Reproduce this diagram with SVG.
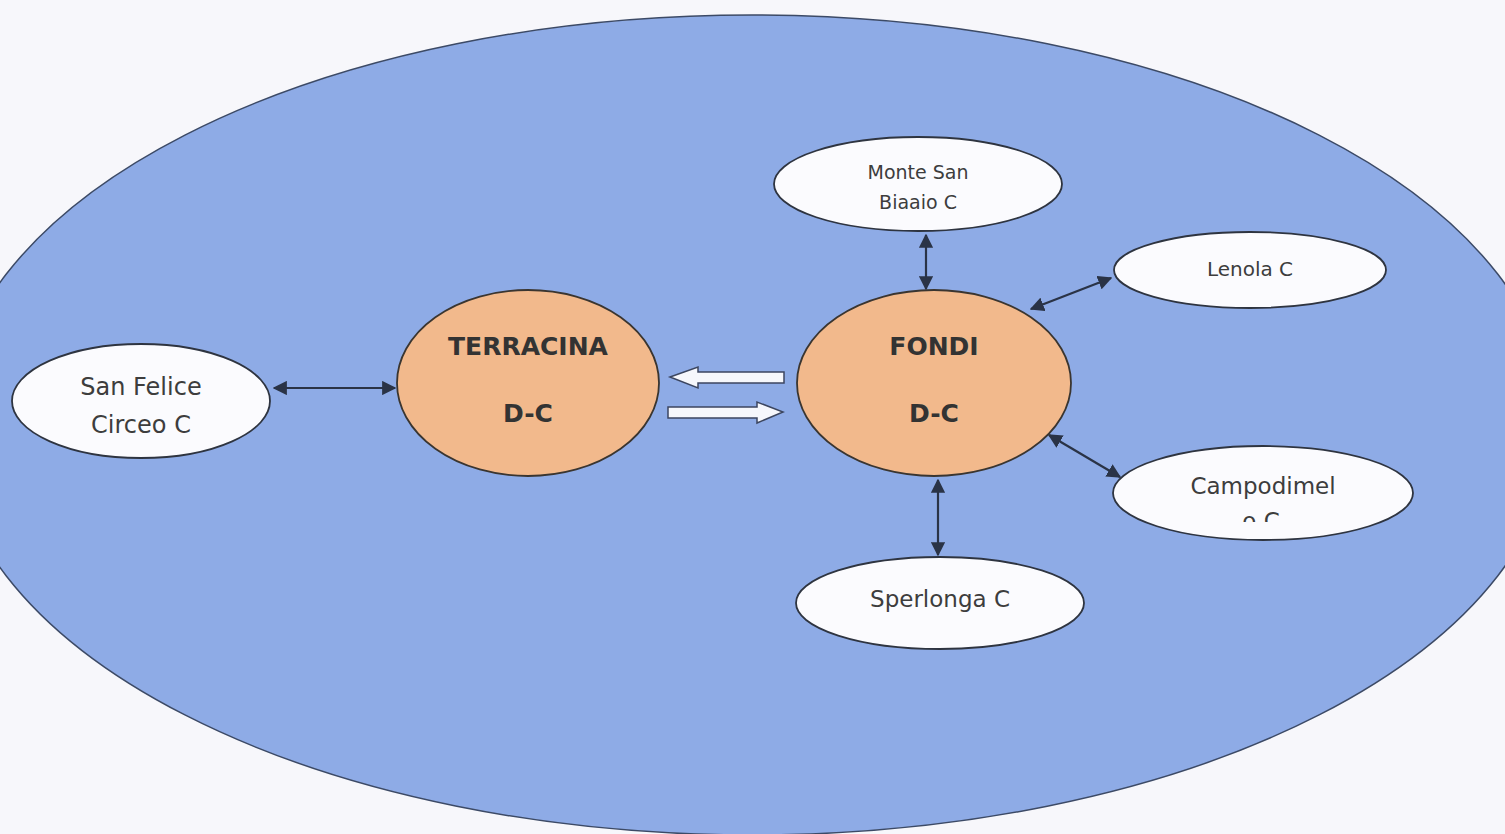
<svg xmlns="http://www.w3.org/2000/svg" width="1505" height="834" viewBox="0 0 1505 834">
<defs>
<style>
.bg{fill:#f7f7fb}
.outer{fill:#8eabe6;stroke:#3c4a66;stroke-width:1.5}
.sat{fill:#fbfbfe;stroke:#2e3440;stroke-width:1.8}
.hub{fill:#f2b98c;stroke:#3a3530;stroke-width:1.8}
.lbl{font-family:"DejaVu Sans",sans-serif;fill:#3d3d3d;text-anchor:middle}
.hubt{font-family:"DejaVu Sans",sans-serif;font-weight:bold;fill:#333;text-anchor:middle;font-size:25px}
.con{stroke:#2a3346;stroke-width:2.2;fill:none;marker-start:url(#ah);marker-end:url(#ah)}
.blk{fill:#f6f7fc;stroke:#3c4660;stroke-width:1.5}
</style>
<marker id="ah" viewBox="0 0 10 10" refX="9" refY="5" markerWidth="6.5" markerHeight="6.5" orient="auto-start-reverse" markerUnits="strokeWidth">
<path d="M0,0 L10,5 L0,10 z" fill="#2a3346"/>
</marker>
<clipPath id="cpClip"><rect x="1100" y="440" width="330" height="82"/></clipPath>
</defs>
<rect class="bg" x="0" y="0" width="1505" height="834"/>
<g id="region">
<ellipse class="outer" cx="752" cy="425" rx="802" ry="410"/>
</g>
<g id="connectors">
<line class="con" x1="274" y1="388" x2="395" y2="388"/>
<line class="con" x1="926" y1="235" x2="926" y2="289"/>
<line class="con" x1="1111" y1="278" x2="1031" y2="309"/>
<line class="con" x1="1120" y1="477" x2="1049" y2="435"/>
<line class="con" x1="938" y1="480" x2="938" y2="555"/>
<path class="blk" d="M670,377 L698,367 L698,372 L784,372 L784,383 L698,383 L698,388 Z"/>
<path class="blk" d="M668,407 L757,407 L757,402 L783,412 L757,423 L757,418 L668,418 Z"/>
</g>
<g id="san-felice">
<ellipse class="sat" cx="141" cy="401" rx="129" ry="57"/>
<text class="lbl" x="141" y="395" font-size="24">San Felice</text>
<text class="lbl" x="141" y="433" font-size="24">Circeo C</text>
</g>
<g id="terracina">
<ellipse class="hub" cx="528" cy="383" rx="131" ry="93"/>
<text class="hubt" x="528" y="355">TERRACINA</text>
<text class="hubt" x="528" y="422">D-C</text>
</g>
<g id="fondi">
<ellipse class="hub" cx="934" cy="383" rx="137" ry="93"/>
<text class="hubt" x="934" y="355">FONDI</text>
<text class="hubt" x="934" y="422">D-C</text>
</g>
<g id="monte-san-biagio">
<ellipse class="sat" cx="918" cy="184" rx="144" ry="47"/>
<text class="lbl" x="918" y="179" font-size="19">Monte San</text>
<text class="lbl" x="918" y="209" font-size="19">Biaaio C</text>
</g>
<g id="lenola">
<ellipse class="sat" cx="1250" cy="270" rx="136" ry="38"/>
<text class="lbl" x="1250" y="276" font-size="20">Lenola C</text>
</g>
<g id="campodimele">
<ellipse class="sat" cx="1263" cy="493" rx="150" ry="47"/>
<text class="lbl" x="1263" y="494" font-size="23">Campodimel</text>
<text class="lbl" x="1261" y="529" font-size="23" clip-path="url(#cpClip)">o C</text>
</g>
<g id="sperlonga">
<ellipse class="sat" cx="940" cy="603" rx="144" ry="46"/>
<text class="lbl" x="940" y="607" font-size="23">Sperlonga C</text>
</g>
</svg>
